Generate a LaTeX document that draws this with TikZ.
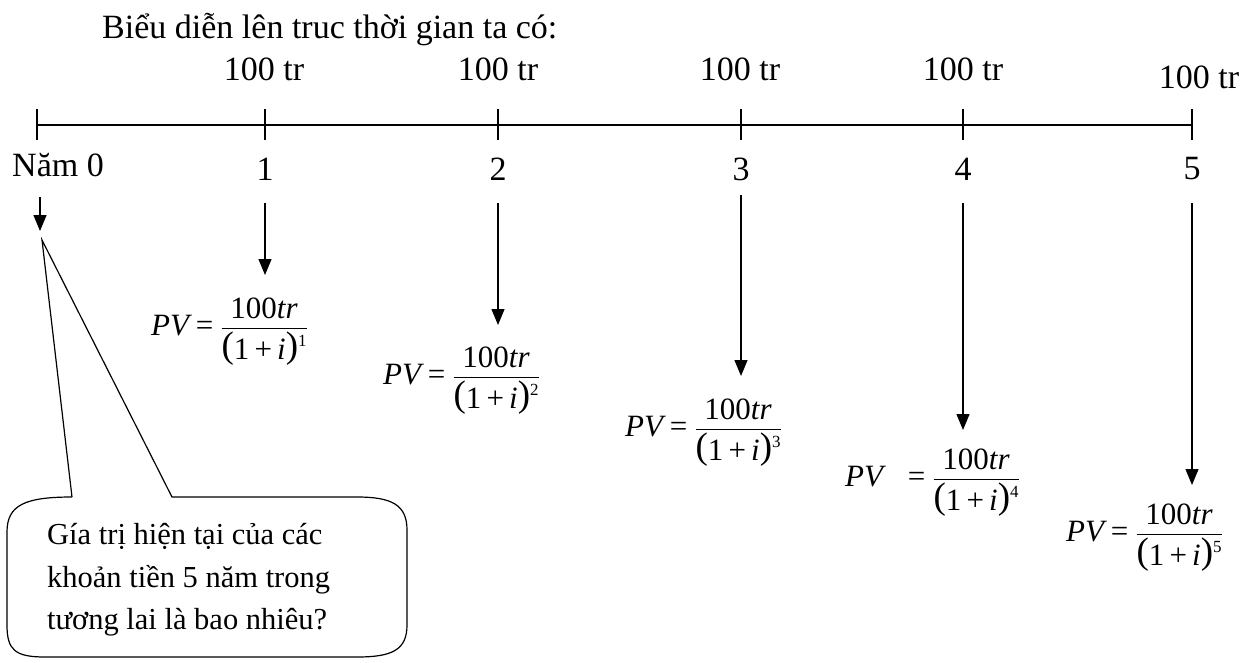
\documentclass[tikz,border=0pt]{standalone}
\usepackage{amsmath}
\usepackage{fontspec}
\setmainfont{Liberation Serif}
\usetikzlibrary{arrows.meta}
\newcommand{\bigpar}[1]{\raisebox{1.5pt}{\fontsize{37}{37}\selectfont #1}}
\newcommand{\pvden}[1]{\mbox{\bigpar{(}1\,+\,\textit{i}\bigpar{)}\raisebox{13pt}{\fontsize{17}{17}\selectfont #1}}}
\newcommand{\pvf}[1]{$\textit{PV} \mathrel{\mbox{=}} \dfrac{\mbox{100\textit{tr}}}{\pvden{#1}}$}
\newcommand{\pvfs}[1]{$\textit{PV}\;\;\, \mathrel{\mbox{=}} \dfrac{\mbox{100\textit{tr}}}{\pvden{#1}}$}
\begin{document}
\begin{tikzpicture}[x=1pt,y=-1pt,
  lbl/.style={inner sep=0pt,font=\fontsize{34}{40}\selectfont},
  frm/.style={inner sep=0pt,anchor=base west,font=\fontsize{31}{36}\selectfont},
  arr/.style={line width=1.3pt,-{Triangle[length=16pt,width=13pt]}},
  ln/.style={line width=1.3pt}]
\useasboundingbox (0,0) rectangle (1256,662);
% title
\node[lbl,anchor=west] (title) at (102,30) {Biểu diễn lên truc thời gian ta có:};
% axis
\coordinate (t0) at (37,125);
\coordinate (t1) at (265,125);
\coordinate (t2) at (498,125);
\coordinate (t3) at (741,125);
\coordinate (t4) at (963,125);
\coordinate (t5) at (1192,125);
\draw[ln] (t0) -- (t5);
\foreach \t in {t0,t1,t2,t3,t4,t5}
  \draw[ln] ([yshift=-15pt]\t) -- ([yshift=16pt]\t);
% amounts
\node[lbl] (m1) at (264,69) {100 tr};
\node[lbl] (m2) at (498,69) {100 tr};
\node[lbl] (m3) at (740,69) {100 tr};
\node[lbl] (m4) at (963,69) {100 tr};
\node[lbl] (m5) at (1199,77) {100 tr};
% years
\node[lbl] (y0) at (58,165) {Năm 0};
\node[lbl] (y1) at (265,169) {1};
\node[lbl] (y2) at (498,169) {2};
\node[lbl] (y3) at (741,169) {3};
\node[lbl] (y4) at (963,169) {4};
\node[lbl] (y5) at (1192,169) {5};
% arrows
\coordinate (s0) at (40,197);  \coordinate (e0) at (40,231);
\coordinate (s1) at (265,203); \coordinate (e1) at (265,275);
\coordinate (s2) at (498,203); \coordinate (e2) at (498,325);
\coordinate (s3) at (741,195); \coordinate (e3) at (741,376);
\coordinate (s4) at (963,203); \coordinate (e4) at (963,430);
\coordinate (s5) at (1192,203); \coordinate (e5) at (1192,485);
\foreach \i in {0,...,5} \draw[arr] (s\i) -- (e\i);
% formulas (baseline = fraction bar + 8)
\node[frm] (f1) at (151,335) {\pvf{1}};
\node[frm] (f2) at (383,384) {\pvf{2}};
\node[frm] (f3) at (625,436) {\pvf{3}};
\node[frm] (f4) at (845,486) {\pvfs{4}};
\node[frm] (f5) at (1066,541) {\pvf{5}};
% callout
\coordinate (tip) at (42,240);
\draw[line width=1.2pt] (72,497) -- (tip) -- (172,497) -- (357,497)
  .. controls (392,497) and (407,505) .. (407,530) -- (407,625)
  .. controls (407,650) and (392,657) .. (357,657) -- (45,657)
  .. controls (15,657) and (7,650) .. (7,625) -- (7,532)
  .. controls (7,505) and (25,497) .. (72,497);
\node[lbl,anchor=west,align=left,font=\fontsize{30.5}{42.5}\selectfont] (q) at (47,580)
  {Gía trị hiện tại của các\\khoản tiền 5 năm trong\\tương lai là bao nhiêu?};
\end{tikzpicture}
\end{document}
